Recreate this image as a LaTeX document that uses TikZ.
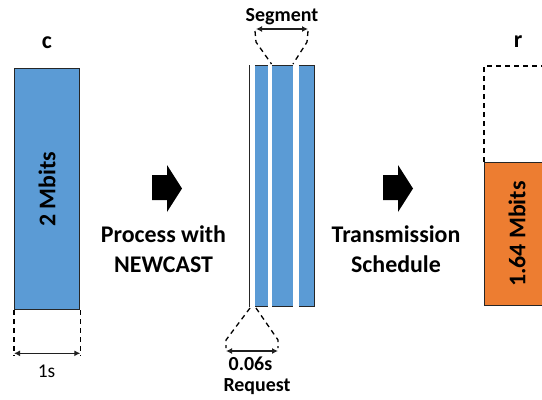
\documentclass[tikz,border=0pt]{standalone}
\usepackage{fontspec}
\setmainfont{Carlito}
\usetikzlibrary{arrows.meta}
\definecolor{barblue}{HTML}{5B9BD5}
\definecolor{barorange}{HTML}{ED7D31}
\definecolor{edgecol}{HTML}{262626}
\definecolor{dimcol}{HTML}{202020}
\begin{document}
\begin{tikzpicture}[x=1bp,y=-1bp,
  bar/.style={draw=edgecol,line width=1.3bp,inner sep=0pt,anchor=north west},
  guide/.style={draw=black,line width=1.3bp,dash pattern=on 5bp off 4bp},
  dim/.style={draw=dimcol,line width=1.3bp,{Latex[length=6bp,width=6bp]}-{Latex[length=6bp,width=6bp]}},
  bigtxt/.style={font=\fontsize{24}{30}\selectfont\bfseries,inner sep=0pt},
  midtxt/.style={font=\fontsize{20}{21}\selectfont\bfseries,inner sep=0pt},
  smalltxt/.style={font=\fontsize{19.5}{21}\selectfont,inner sep=0pt},
  blockarrow/.style={fill=black}
]
\useasboundingbox (0,0) rectangle (542,399);
\clip (0,0) rectangle (542,399);

% ---- left bar c ----
\node[bigtxt,anchor=base] (clabel) at (47,48) {c};
\node[bar,fill=barblue,minimum width=65bp,minimum height=241bp] (cbar) at (14,68) {};
\node[bigtxt,rotate=90] (ctext) at (cbar.center) {2 Mbits};
\draw[guide] (cbar.south west) -- ++(0,46) coordinate (cgl);
\draw[guide] (cbar.south east) -- ++(0,46) coordinate (cgr);
\coordinate (cdl) at ([yshift=-43bp]cbar.south west);
\coordinate (cdr) at ([yshift=-43bp]cbar.south east);
\draw[dim] (cdl) -- (cdr);
\node[smalltxt,anchor=base] (onesec) at (46.5,377) {1s};

% ---- first block arrow ----
\fill[blockarrow] (152,175) -- (167,175) -- (167,165) -- (182,188.5) -- (167,212) -- (167,200) -- (152,200) -- cycle;
\node[bigtxt,align=center,anchor=base] (proc) at (163.5,272) {Process with\\NEWCAST};

% ---- middle segmented bar ----
\node[bar,fill=barblue,minimum width=65bp,minimum height=241bp] (sbar) at (249,65) {};
\fill[white] (250.4,62) rectangle (255,309);
\fill[white] (268.3,62) rectangle (272.3,309);
\fill[white] (293.3,62) rectangle (299,309);

\node[midtxt,anchor=base] (seglabel) at (282,21) {Segment};
\coordinate (sa) at (255,31);
\coordinate (sb) at (256,42);
\coordinate (sc) at (271.5,64);
\coordinate (sd) at (308,31);
\coordinate (se) at (307,42);
\coordinate (sf) at (293,64);
\draw[guide] (sa) -- (sb) -- (sc);
\draw[guide] (sd) -- (se) -- (sf);
\coordinate (sal) at (256,29);
\coordinate (sar) at (308,29);
\draw[dim] (sal) -- (sar);

\coordinate (ra) at (250,308);
\coordinate (rb) at (226,340);
\coordinate (rc) at (226,348);
\coordinate (rd) at (256,308);
\coordinate (re) at (278,340);
\coordinate (rf) at (278,348);
\draw[guide] (ra) -- (rb) -- (rc);
\draw[guide] (rd) -- (re) -- (rf);
\coordinate (rdl) at (226,351);
\coordinate (rdr) at (278,351);
\draw[dim] (rdl) -- (rdr);
\node[midtxt,anchor=base] (reqtime) at (250.5,370) {0.06s};
\node[midtxt,anchor=base] (reqlabel) at (257,391) {Request};

% ---- second block arrow ----
\fill[blockarrow] (383,175) -- (398,175) -- (398,165) -- (413,188.5) -- (398,212) -- (398,200) -- (383,200) -- cycle;
\node[bigtxt,align=center,anchor=base] (trans) at (396,272) {Transmission\\Schedule};

% ---- right bar r ----
\node[bigtxt,anchor=base] (rlabel) at (518,47) {r};
\coordinate (rtl) at (484,66);
\coordinate (rtr) at (560,66);
\node[bar,fill=barorange,minimum width=65bp,minimum height=143bp] (rbar) at (484,162) {};
\draw[guide] (rbar.north west) -- (rtl) -- (rtr);
\node[bigtxt,rotate=90] (rtext) at (rbar.center) {1.64 Mbits};
\end{tikzpicture}
\end{document}
